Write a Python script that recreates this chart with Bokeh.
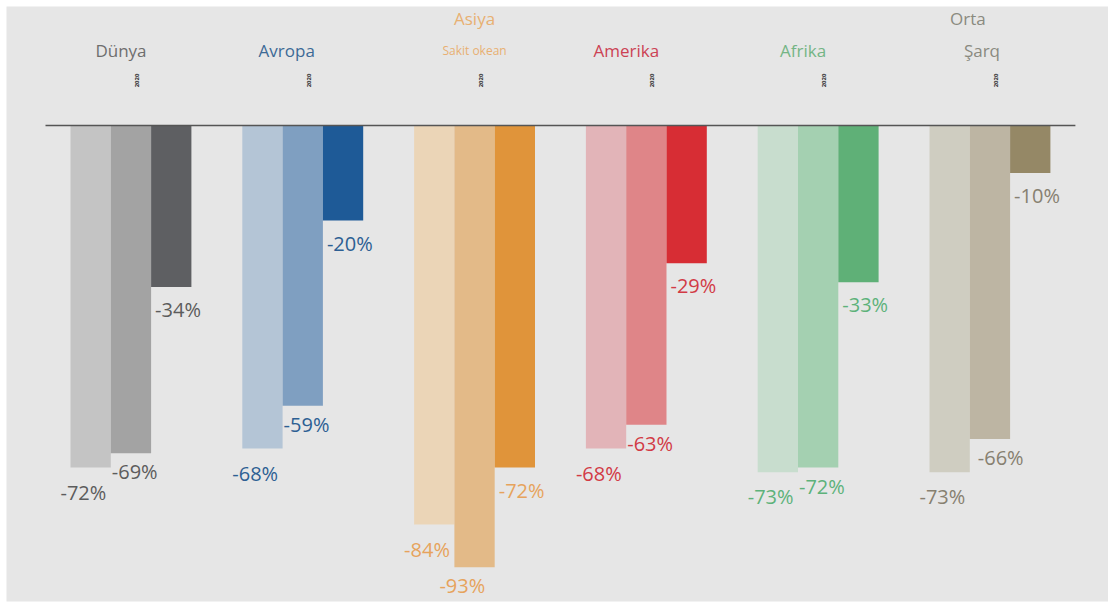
import math
from bokeh.plotting import figure
from bokeh.models import Range1d
from bokeh.core.properties import value
from bokeh.embed import file_html
from bokeh.resources import INLINE

regions = ["Dünya", "Avropa", "Asiya Sakit okean", "Amerika", "Afrika", "Orta Şarq"]
series1 = [-72, -68, -84, -68, -73, -73]
series2 = [-69, -59, -93, -63, -72, -66]
series3 = [-34, -20, -72, -29, -33, -10]

bar_colors = [
    ["#c4c4c4", "#a3a3a3", "#5e5f62"],
    ["#b4c5d6", "#7f9fc1", "#1e5a97"],
    ["#ebd5b7", "#e3ba88", "#e0943a"],
    ["#e2b4b8", "#df8588", "#d72d34"],
    ["#c8ddce", "#a4d0b1", "#5fb077"],
    ["#cfcdc1", "#bdb5a3", "#958866"],
]
label_colors = ["#5c5c5c", "#2d5f93", "#e6a35c", "#d23a45", "#5db27a", "#878070"]
header_colors = ["#6e6e6e", "#3d6a96", "#e8b072", "#cc4254", "#74b585", "#8a8a80"]

W, H = 1108, 604
ML, MT, MB = 6, 6, 3
FW, FH = W - ML, H - MT - MB
BASE_PX = 119.0          # baseline position inside the frame
PX_PER = 4.75
GROUP_LEFT = 64.0
GROUP_STEP = 171.8
BAR_W = 40.3

p = figure(width=W, height=H, output_backend="svg", toolbar_location=None,
           x_range=Range1d(0, FW),
           y_range=Range1d(-(FH - BASE_PX) / PX_PER, BASE_PX / PX_PER),
           min_border_left=ML, min_border_top=MT, min_border_bottom=MB, min_border_right=0,
           background_fill_color="#e6e6e6", border_fill_color="#ffffff",
           outline_line_color=None)
p.axis.visible = False
p.grid.visible = False

series = [series1, series2, series3]
label_dx = [[-10, 1, 4] for _ in range(6)]
label_dx[2][1] = -15
label_dx[5][1] = 8
label_dy = [11, 5, 9]

for i in range(len(regions)):
    gl = GROUP_LEFT + i * GROUP_STEP
    for j in range(3):
        v = series[j][i]
        x = gl + j * BAR_W + BAR_W / 2
        p.vbar(x=[x], top=[0], bottom=[v], width=BAR_W, fill_color=bar_colors[i][j],
               line_color=None)
        p.text(x=[gl + j * BAR_W], y=[v], text=[f"{v}%"], x_offset=label_dx[i][j],
               y_offset=label_dy[j],
               text_color=label_colors[i], text_font=value("Open Sans"),
               text_font_size="20px", text_align="left", text_baseline="top")

# baseline
x0 = GROUP_LEFT - 25
x1 = GROUP_LEFT + 5 * GROUP_STEP + 3 * BAR_W + 25
p.segment(x0=[x0], y0=[0], x1=[x1], y1=[0], line_color="#555555", line_width=1.5)

def ydat(px):
    return (BASE_PX - px) / PX_PER

header_rows = [
    [("Dünya", 44, "17px")],
    [("Avropa", 44, "17px")],
    [("Asiya", 12, "17px"), ("Sakit okean", 44, "12px")],
    [("Amerika", 44, "17px")],
    [("Afrika", 44, "17px")],
    [("Orta", 12, "17px"), ("Şarq", 44, "17px")],
]
header_dx = [[-10], [-16], [0, 0], [-20], [-15], [-22, -8]]
for i, rows in enumerate(header_rows):
    gc = GROUP_LEFT + i * GROUP_STEP + 1.5 * BAR_W
    for k, (t, py, fs) in enumerate(rows):
        p.text(x=[gc + header_dx[i][k]], y=[ydat(py)], text=[t], text_color=header_colors[i],
               text_font=value("Open Sans"), text_font_size=fs,
               text_align="center", text_baseline="middle")
    p.text(x=[gc + 6], y=[ydat(74)], text=["2020"], angle=math.pi / 2,
           text_color="#333333", text_font=value("Open Sans"), text_font_size="6px",
           text_font_style="bold", text_align="center", text_baseline="middle")

open("out.html", "w").write(file_html(p, INLINE))
